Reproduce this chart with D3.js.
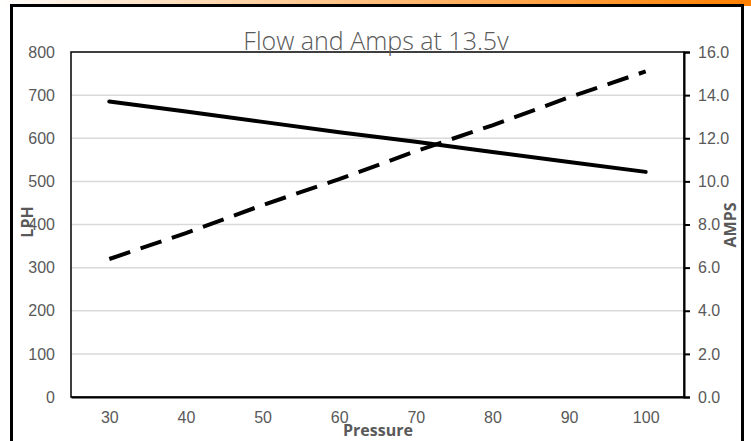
<!DOCTYPE html>
<html>
<head>
<meta charset="utf-8">
<script src="https://cdn.jsdelivr.net/npm/d3@7"></script>
<style>
  body { margin: 0; background: #fff; }
  svg { display: block; font-family: 'Open Sans', 'Liberation Sans', sans-serif; }
</style>
</head>
<body>
<div id="chart"></div>
<script>
// chart data
const pressure = [30, 40, 50, 60, 70, 80, 90, 100];
const lph = [685, 662, 638, 614, 592, 568, 545, 522];
const amps = [6.4, 7.6, 8.9, 10.1, 11.4, 12.6, 13.9, 15.1];
const lphTicks = [0, 100, 200, 300, 400, 500, 600, 700, 800];
const ampTicks = [0, 2, 4, 6, 8, 10, 12, 14, 16];
const title = 'Flow and Amps at 13.5v';

const W = 751;
const H = 441;
const margin = { top: 52, right: 67, bottom: 44, left: 71 };
const width = W - margin.left - margin.right;
const height = H - margin.top - margin.bottom;

const svg = d3.select('#chart')
  .append('svg')
  .attr('width', W)
  .attr('height', H);

// orange band + outer frame
const grad = svg.append('defs').append('linearGradient')
  .attr('id', 'band').attr('x1', '0%').attr('x2', '100%');
grad.append('stop').attr('offset', '0%').attr('stop-color', '#ffffff');
grad.append('stop').attr('offset', '10%').attr('stop-color', '#fdeedd');
grad.append('stop').attr('offset', '100%').attr('stop-color', '#ff8000');
svg.append('rect').attr('x', 0).attr('y', 0).attr('width', W).attr('height', 6)
  .attr('fill', 'url(#band)');
svg.append('path')
  .attr('d', `M11.5,${H} V5.5 H742.5 V${H}`)
  .attr('fill', 'none').attr('stroke', '#000').attr('stroke-width', 3);

const g = svg.append('g')
  .attr('transform', `translate(${margin.left},${margin.top})`);

const x = d3.scaleLinear().domain([25, 105]).range([0, width]);
const yL = d3.scaleLinear().domain([0, 800]).range([height, 0]);
const yR = d3.scaleLinear().domain([0, 16]).range([height, 0]);

// gridlines
g.append('g')
  .selectAll('line')
  .data(lphTicks.slice(1, -1))
  .enter()
  .append('line')
  .attr('x1', 0).attr('x2', width)
  .attr('y1', d => yL(d)).attr('y2', d => yL(d))
  .attr('stroke', '#d9d9d9').attr('stroke-width', 1.5);

// plot frame
g.append('rect')
  .attr('width', width).attr('height', height)
  .attr('fill', 'none').attr('stroke', '#000').attr('stroke-width', 1.5);

// left axis (labels only)
const left = g.append('g')
  .call(d3.axisLeft(yL).tickValues(lphTicks).tickSize(0).tickPadding(16));
left.select('.domain').remove();

// right axis
const right = g.append('g')
  .attr('transform', `translate(${width},0)`)
  .call(d3.axisRight(yR).tickValues(ampTicks).tickSize(6).tickPadding(8)
    .tickFormat(d3.format('.1f')));
right.select('.domain').attr('stroke-width', 2);
right.selectAll('.tick line').attr('stroke-width', 2);

// bottom axis
const bottom = g.append('g')
  .attr('transform', `translate(0,${height})`)
  .call(d3.axisBottom(x).tickValues(pressure).tickSize(0).tickPadding(15));
bottom.select('.domain').attr('stroke-width', 2);

svg.selectAll('.tick text')
  .attr('fill', '#595959')
  .style('font-size', '16px');

// lines
const lphLine = d3.line().x((d, i) => x(pressure[i])).y(d => yL(d));
const ampLine = d3.line().x((d, i) => x(pressure[i])).y(d => yR(d));

g.append('path')
  .datum(lph)
  .attr('d', lphLine)
  .attr('fill', 'none')
  .attr('stroke', '#000')
  .attr('stroke-width', 4)
  .attr('stroke-linecap', 'round');

g.append('path')
  .datum(amps)
  .attr('d', ampLine)
  .attr('fill', 'none')
  .attr('stroke', '#000')
  .attr('stroke-width', 4)
  .attr('stroke-dasharray', '22,11');

// title
svg.append('text')
  .attr('x', 376).attr('y', 50)
  .attr('text-anchor', 'middle')
  .attr('fill', '#595959')
  .style('font-size', '25px')
  .style('font-weight', 300)
  .text(title);

// axis titles
svg.append('text')
  .attr('transform', 'translate(33,222) rotate(-90)')
  .attr('text-anchor', 'middle')
  .attr('fill', '#595959')
  .style('font-size', '16px')
  .style('font-weight', 'bold')
  .text('LPH');

svg.append('text')
  .attr('transform', 'translate(736,225) rotate(-90)')
  .attr('text-anchor', 'middle')
  .attr('fill', '#595959')
  .style('font-size', '16px')
  .style('font-weight', 'bold')
  .text('AMPS');

svg.append('text')
  .attr('x', 378).attr('y', 436)
  .attr('text-anchor', 'middle')
  .attr('fill', '#595959')
  .style('font-size', '16px')
  .style('font-weight', 'bold')
  .text('Pressure');
</script>
</body>
</html>
